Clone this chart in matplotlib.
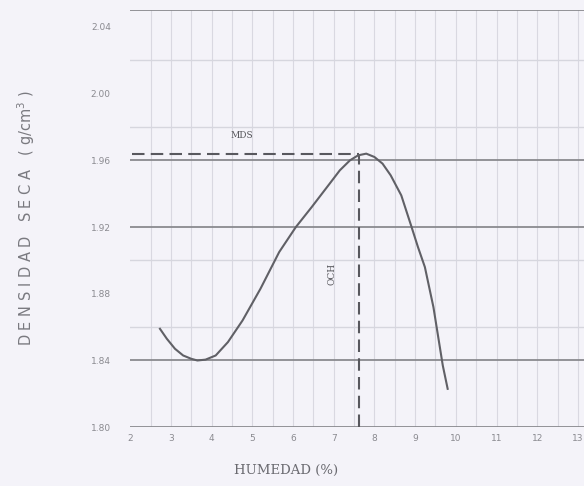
import numpy as np
import matplotlib
matplotlib.use("Agg")
import matplotlib.pyplot as plt

# Curva de compactacion
humedad = [2.73, 2.9, 3.1, 3.3, 3.5, 3.65, 3.85, 4.1, 4.4, 4.76, 5.2, 5.66, 6.07,
           6.46, 6.9, 7.15, 7.4, 7.6, 7.8, 8.0, 8.2, 8.4, 8.66, 8.9, 9.07, 9.24,
           9.45, 9.68, 9.8]
densidad = [1.859, 1.853, 1.847, 1.843, 1.841, 1.840, 1.8405, 1.843, 1.851, 1.864,
            1.883, 1.905, 1.920, 1.932, 1.946, 1.954, 1.960, 1.963, 1.964, 1.962,
            1.958, 1.951, 1.939, 1.921, 1.908, 1.896, 1.872, 1.837, 1.823]

mds = 1.964
och = 7.61

x_ticks = [2, 3, 4, 5, 6, 7, 8, 9, 10, 11, 12, 13]
x_ticklabels = ["2", "3", "4", "5", "6", "7", "8", "9", "10", "11", "12", "13"]
y_ticks = [1.80, 1.84, 1.88, 1.92, 1.96, 2.00, 2.04]
y_ticklabels = ["1.80", "1.84", "1.88", "1.92", "1.96", "2.00", "2.04"]
lineas_fuertes = [1.80, 1.84, 1.92, 1.96, 2.05]
lineas_suaves = [1.86, 1.90, 1.98, 2.02]
verticales = list(np.arange(2.5, 13.01, 0.5))

fondo = "#f4f3f9"

fig = plt.figure(figsize=(5.84, 4.86), dpi=100, facecolor=fondo)
ax = fig.add_axes([0.223, 0.121, 0.777, 0.858], facecolor=fondo)
ax.set_xlim(2, 13.15)
ax.set_ylim(1.80, 2.05)

# Cuadricula
for v in verticales:
    ax.axvline(v, color="#d9d8e1", lw=0.8, zorder=1)
for h in lineas_suaves:
    ax.axhline(h, color="#d6d6de", lw=1.0, zorder=1)
for h in lineas_fuertes:
    ax.axhline(h, color="#8a8a8f", lw=1.3, zorder=2)

# Curva
ax.plot(humedad, densidad, color="#606066", lw=1.5, zorder=4)

# MDS y OCH
ax.plot([2.05, och], [mds, mds], color="#58585e", lw=1.5, ls=(0, (6, 3)), zorder=3)
ax.plot([och, och], [1.80, mds], color="#58585e", lw=1.5, ls=(0, (6, 3)), zorder=3)
ax.text(4.75, 1.972, "MDS", fontsize=6.5, color="#55555a", ha="center", va="bottom",
        family="DejaVu Serif")
ax.text(6.95, 1.892, "OCH", fontsize=6.5, color="#55555a", ha="center", va="center",
        rotation=90, family="DejaVu Serif")

for s in ax.spines.values():
    s.set_visible(False)

ax.set_xticks(x_ticks)
ax.set_xticklabels(x_ticklabels)
ax.set_yticks(y_ticks)
ax.set_yticklabels(y_ticklabels)
ax.tick_params(axis="both", length=0, labelsize=6.5, labelcolor="#8a8a90")
ax.tick_params(axis="y", pad=14)
ax.tick_params(axis="x", pad=5)

fig.text(0.045, 0.551, "D E N S I D A D   S E C A   ( g/cm$^3$ )", rotation=90,
         ha="center", va="center", fontsize=10.5, color="#7a7a80")
fig.text(0.49, 0.033, "HUMEDAD (%)", ha="center", va="center", fontsize=9.5,
         color="#6a6a70", family="DejaVu Serif")

fig.savefig("out.png", dpi=100, facecolor=fondo)
